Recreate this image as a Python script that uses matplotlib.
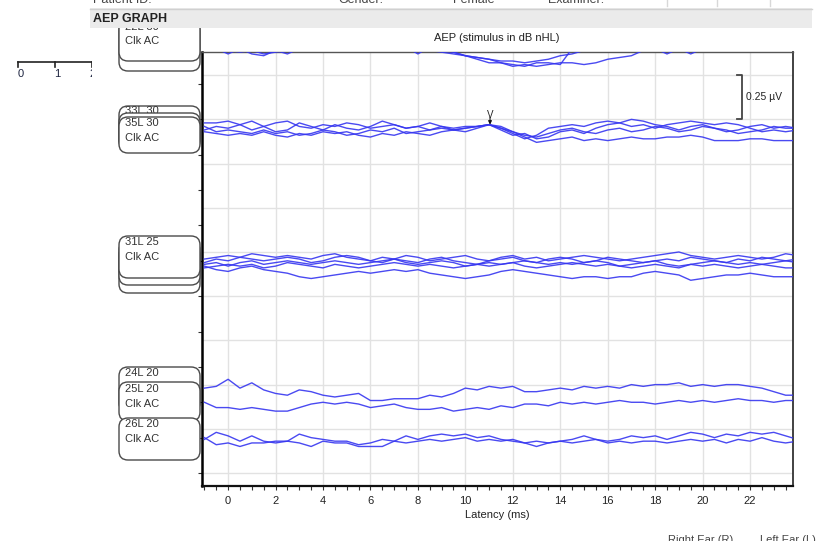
import numpy as np
import matplotlib
matplotlib.use("Agg")
import matplotlib.pyplot as plt
from matplotlib.patches import FancyBboxPatch, Rectangle

plt.rcParams['font.family'] = ['Liberation Sans', 'DejaVu Sans']

# ---------------------------------------------------------------- data
latency_ms = np.arange(-1.0, 24.01, 0.5)          # 51 samples per sweep
xtick_values = [0, 2, 4, 6, 8, 10, 12, 14, 16, 18, 20, 22]

# baselines of each stimulus level (µV on the stacked display axis)
base_top = 2.43
base_30 = 1.94
base_25 = 1.19
base_24L = 0.47
base_25L = 0.38
base_26L = 0.20

# sweeps, µV relative to their baseline
top_a = [-0.02, -0.03, -0.06, -0.03, -0.06, -0.07, -0.04, -0.06, -0.03, -0.02,
         -0.01, -0.03, -0.02, 0.00, -0.02, -0.01, -0.03, -0.02, -0.01, -0.03,
         -0.04, -0.05, -0.07, -0.08, -0.09, -0.11, -0.12, -0.13, -0.11, -0.11,
         -0.12, -0.03, 0.00, -0.02, -0.01, -0.03, -0.02, -0.01, -0.03, -0.02,
         -0.04, -0.02, -0.03, -0.01, -0.02, -0.03, -0.01, -0.02, -0.03, -0.02,
         -0.01]
top_b = [-0.03, -0.02, -0.04, -0.05, -0.04, -0.06, -0.05, -0.04, -0.02, -0.03,
         -0.01, -0.02, -0.03, -0.02, -0.04, -0.02, -0.03, -0.01, -0.02, -0.04,
         -0.05, -0.06, -0.07, -0.09, -0.11, -0.11, -0.13, -0.12, -0.13, -0.12,
         -0.11, -0.11, -0.12, -0.11, -0.09, -0.08, -0.07, -0.04, -0.03, -0.06,
         -0.03, -0.06, -0.03, -0.02, -0.04, -0.03, -0.02, -0.03, -0.01, -0.02,
         -0.03]
top_c = [-0.01, -0.02, -0.03, -0.02, -0.01, -0.03, -0.02, -0.01, -0.02, -0.03,
         -0.02, -0.01, -0.02, -0.03, -0.01, -0.02, -0.03, -0.02, -0.06, -0.02,
         -0.03, -0.05, -0.07, -0.08, -0.09, -0.10, -0.10, -0.11, -0.10, -0.09,
         -0.07, -0.06, -0.04, -0.02, -0.01, -0.02, -0.03, -0.02, -0.01, -0.02,
         -0.03, -0.02, -0.01, -0.02, -0.03, -0.02, -0.01, -0.02, -0.03, -0.02,
         -0.01]

db30_a = [0.04, 0.04, 0.05, 0.03, 0.05, 0.02, 0.04, 0.05, 0.02, 0.01,
          0.03, 0.02, 0.04, 0.03, 0.01, 0.02, 0.03, 0.01, 0.02, 0.00,
          0.02, 0.01, 0.02, 0.02, 0.03, 0.01, -0.02, -0.05, -0.03, 0.01,
          0.02, 0.03, 0.02, 0.04, 0.05, 0.04, 0.02, 0.03, 0.01, 0.03,
          0.04, 0.05, 0.04, 0.03, 0.04, 0.03, 0.01, -0.01, 0.00, -0.01,
          0.00]
db30_b = [0.00, 0.02, 0.01, 0.03, 0.00, 0.02, -0.01, 0.00, 0.04, 0.02,
          0.00, 0.03, 0.01, 0.00, 0.02, 0.05, 0.03, 0.01, 0.02, 0.04,
          0.02, 0.00, 0.01, 0.02, 0.03, 0.00, -0.03, -0.02, -0.05, -0.04,
          -0.01, 0.00, -0.02, 0.01, 0.03, 0.04, 0.06, 0.05, 0.03, 0.02,
          0.00, 0.02, 0.03, 0.01, -0.01, 0.00, 0.02, 0.03, 0.01, 0.02,
          0.01]
db30_c = [0.02, -0.01, 0.00, -0.01, -0.02, 0.00, -0.02, -0.01, -0.03, -0.02,
          0.00, -0.01, -0.03, -0.02, 0.00, -0.01, 0.01, -0.02, -0.01, 0.00,
          0.01, 0.00, -0.01, 0.01, 0.03, 0.02, -0.01, -0.03, -0.04, -0.02,
          0.00, 0.01, -0.01, -0.02, 0.00, 0.01, -0.01, 0.00, 0.02, 0.01,
          -0.01, 0.00, 0.02, 0.01, 0.00, -0.02, -0.01, 0.00, 0.02, 0.01,
          0.01]
db30_d = [-0.01, -0.02, -0.03, -0.02, -0.03, -0.01, -0.03, -0.04, -0.02, -0.03,
          -0.01, -0.02, -0.01, -0.03, -0.04, -0.02, -0.03, -0.01, -0.02, -0.03,
          -0.01, 0.00, 0.01, 0.02, 0.03, 0.01, -0.01, -0.04, -0.07, -0.06,
          -0.05, -0.04, -0.06, -0.05, -0.06, -0.05, -0.04, -0.05, -0.05, -0.04,
          -0.04, -0.03, -0.04, -0.06, -0.06, -0.06, -0.05, -0.05, -0.06, -0.06,
          -0.06]

db25_a = [0.02, 0.03, 0.04, 0.03, 0.05, 0.04, 0.03, 0.04, 0.03, 0.02,
          0.04, 0.05, 0.03, 0.02, 0.01, 0.03, 0.02, 0.04, 0.03, 0.01,
          0.02, 0.03, 0.04, 0.02, 0.01, 0.03, 0.04, 0.02, 0.03, 0.01,
          0.02, 0.03, 0.04, 0.03, 0.02, 0.01, 0.02, 0.03, 0.04, 0.05,
          0.06, 0.04, 0.03, 0.02, 0.03, 0.04, 0.03, 0.02, 0.03, 0.05,
          0.04]
db25_b = [0.00, 0.02, 0.01, 0.03, 0.02, 0.01, 0.02, 0.03, 0.02, 0.00,
          0.01, 0.03, 0.04, 0.03, 0.01, 0.00, 0.02, 0.01, 0.00, 0.02,
          0.03, 0.01, 0.00, -0.01, 0.01, 0.02, 0.03, 0.01, 0.00, 0.02,
          0.03, 0.02, 0.00, 0.01, 0.03, 0.02, 0.01, 0.00, 0.01, 0.02,
          0.01, 0.03, 0.02, 0.01, 0.00, 0.02, 0.01, 0.03, 0.02, 0.01,
          0.02]
db25_c = [-0.01, 0.00, -0.02, 0.00, 0.01, -0.01, 0.00, 0.01, 0.00, -0.01,
          0.00, 0.01, 0.00, -0.01, 0.00, 0.01, 0.02, 0.00, -0.01, 0.00,
          0.01, 0.00, -0.02, -0.01, 0.00, -0.01, 0.00, 0.01, 0.00, -0.01,
          0.00, -0.01, 0.00, 0.01, 0.00, -0.02, -0.01, 0.00, 0.01, -0.01,
          -0.02, -0.01, 0.00, 0.01, 0.00, -0.01, 0.00, -0.01, 0.00, 0.01,
          0.00]
db25_d = [-0.03, -0.02, -0.01, -0.02, -0.01, -0.03, -0.02, 0.00, -0.01, -0.02,
          -0.03, -0.01, -0.02, -0.03, -0.02, -0.01, 0.00, -0.01, -0.02, -0.01,
          -0.02, -0.03, -0.02, -0.01, -0.02, -0.01, 0.00, -0.02, -0.03, -0.02,
          -0.01, 0.00, -0.01, -0.02, -0.01, -0.02, -0.03, -0.02, -0.01, -0.02,
          -0.03, -0.01, -0.02, -0.01, -0.02, -0.03, -0.02, -0.01, -0.02, -0.03,
          -0.03]
db25_e = [-0.02, -0.04, -0.05, -0.03, -0.02, -0.04, -0.05, -0.06, -0.08, -0.09,
          -0.08, -0.07, -0.06, -0.05, -0.06, -0.05, -0.04, -0.05, -0.04, -0.06,
          -0.07, -0.08, -0.09, -0.08, -0.07, -0.05, -0.04, -0.05, -0.06, -0.07,
          -0.08, -0.09, -0.08, -0.08, -0.09, -0.08, -0.08, -0.06, -0.05, -0.06,
          -0.07, -0.10, -0.09, -0.08, -0.07, -0.07, -0.06, -0.07, -0.08, -0.08,
          -0.08]

run_24L = [0.01, 0.02, 0.06, 0.01, 0.04, 0.00, -0.02, -0.03, 0.00, -0.01,
           -0.03, -0.04, -0.03, -0.02, -0.06, -0.06, -0.05, -0.05, -0.05, -0.03,
           -0.04, -0.02, 0.01, 0.00, 0.02, 0.01, 0.02, -0.01, -0.01, 0.00,
           0.01, 0.00, 0.02, 0.01, 0.02, 0.01, 0.03, 0.02, 0.03, 0.03,
           0.04, 0.02, 0.03, 0.02, 0.03, 0.03, 0.02, 0.01, -0.01, -0.03,
           -0.03]
run_25L = [0.02, -0.01, -0.01, -0.02, -0.01, -0.02, -0.03, -0.03, -0.01, 0.01,
           0.02, 0.01, 0.02, 0.01, -0.01, 0.00, 0.01, -0.01, -0.02, -0.02,
           -0.01, -0.03, -0.02, -0.01, -0.02, 0.00, -0.01, 0.01, 0.01, 0.00,
           0.02, 0.01, 0.02, 0.01, 0.02, 0.03, 0.02, 0.02, 0.01, 0.02,
           0.03, 0.02, 0.03, 0.02, 0.03, 0.04, 0.03, 0.03, 0.02, 0.03,
           0.03]
run_26L_a = [-0.01, 0.03, 0.01, -0.02, 0.01, -0.02, -0.03, -0.02, 0.02, 0.00,
             -0.01, -0.02, -0.02, -0.04, -0.03, -0.01, -0.02, 0.01, -0.01, 0.01,
             0.02, 0.01, 0.02, 0.00, 0.01, -0.01, -0.02, -0.03, -0.02, -0.03,
             -0.02, -0.01, 0.01, -0.01, -0.02, -0.01, 0.01, 0.00, 0.01, -0.01,
             0.01, 0.03, 0.02, 0.00, 0.02, 0.01, 0.03, 0.02, 0.03, 0.01,
             -0.01]
run_26L_b = [0.00, -0.04, -0.03, -0.05, -0.03, -0.03, -0.02, -0.02, -0.03, -0.05,
             -0.02, -0.03, -0.03, -0.05, -0.05, -0.05, -0.02, -0.03, -0.02, -0.01,
             -0.02, -0.01, 0.00, -0.02, -0.01, -0.02, -0.01, -0.03, -0.05, -0.03,
             -0.02, -0.03, -0.02, -0.01, -0.03, -0.02, -0.03, -0.02, -0.02, -0.03,
             -0.02, -0.01, -0.02, -0.01, -0.03, -0.01, -0.02, 0.00, -0.02, -0.03,
             -0.02]

wave_v_ms = 11.04
wave_v_uv = base_30 + 0.03
scale_uv = 0.25

# ---------------------------------------------------------------- figure
W, H = 820, 541
fig = plt.figure(figsize=(W / 100, H / 100), dpi=100)
fig.patch.set_facecolor('white')

ax = fig.add_axes([202 / W, 1 - 486 / H, 591 / W, 434 / H])
ax.set_xlim(-1.1, 23.81)
ax.set_ylim(-0.0735, 2.381)

for v in np.arange(0, 2.26, 0.25):
    ax.axhline(v, color='#e2e2e2', lw=1.0, zorder=0)
ax.set_xticks(xtick_values)
ax.set_xticks(np.arange(-1.0, 23.6, 0.5), minor=True)
ax.xaxis.grid(True, which='major', color='#e2e2e2', lw=1.0, zorder=0)
ax.set_axisbelow(True)
ax.set_yticks(np.arange(0, 2.3, 0.2))
ax.set_yticklabels([])
ax.tick_params(axis='x', which='both', direction='out', length=3,
               width=0.8, color='#333333', labelsize=8, pad=4,
               labelcolor='#222222')
ax.tick_params(axis='y', direction='out', length=3, width=0.8,
               color='#333333')
ax.set_xlabel('Latency (ms)', fontsize=8, color='#222222', labelpad=3)

for side, lw, c in [('left', 1.8, 'black'), ('bottom', 1.6, '#111111'),
                    ('right', 1.3, '#333333'), ('top', 1.0, '#555555')]:
    ax.spines[side].set_linewidth(lw)
    ax.spines[side].set_color(c)

trace_color = '#3636f0'
groups = [
    (base_top, [top_a, top_b, top_c]),
    (base_30, [db30_a, db30_b, db30_c, db30_d]),
    (base_25, [db25_a, db25_b, db25_c, db25_d, db25_e]),
    (base_24L, [run_24L]),
    (base_25L, [run_25L]),
    (base_26L, [run_26L_a, run_26L_b]),
]
for base, sweeps in groups:
    for sweep in sweeps:
        ax.plot(latency_ms, base + np.asarray(sweep), color=trace_color,
                lw=1.0, alpha=0.9, solid_joinstyle='round', zorder=3)

# wave V marker
ax.annotate('', xy=(wave_v_ms, wave_v_uv), xytext=(wave_v_ms, wave_v_uv + 0.04),
            arrowprops=dict(arrowstyle='-|>', color='#111111', lw=0.8,
                            mutation_scale=5, shrinkA=0, shrinkB=0), zorder=5)
ax.text(wave_v_ms, wave_v_uv + 0.055, 'V', ha='center', va='center',
        fontsize=7, color='#222222', zorder=5)

# amplitude scale bracket
bx, by0 = 21.66, 2.0
ax.plot([bx - 0.2, bx, bx, bx - 0.2], [by0, by0, by0 + scale_uv, by0 + scale_uv],
        color='#444444', lw=1.3, zorder=5)
ax.text(bx + 0.17, by0 + scale_uv / 2, '0.25 µV', fontsize=7.5,
        color='#222222', va='center', ha='left')

# ---------------------------------------------------------------- overlay in pixel units
ov = fig.add_axes([0, 0, 1, 1], zorder=5)
ov.set_xlim(0, W)
ov.set_ylim(H, 0)
ov.axis('off')
ov.patch.set_alpha(0)


def label_box(top, bottom, z):
    ov.add_patch(FancyBboxPatch((119, top), 81, bottom - top,
                                boxstyle='round,pad=0,rounding_size=9',
                                fc='white', ec='#4a4a4a', lw=1.0, zorder=z))


def label_text(y, s, z):
    ov.text(125, y, s, fontsize=8, color='#333333', va='center', ha='left',
            zorder=z)


# top group (mostly under the header)
label_box(22, 71, 2)
label_box(18, 61, 3)
label_text(27, '22L 30', 3.5)
label_text(41, 'Clk AC', 3.5)

# 30 dB group
label_box(106, 148, 2)
label_text(111, '33L 30', 2.5)
label_box(113, 150, 3)
label_box(117, 153, 4)
label_text(123, '35L 30', 4.5)
label_text(138, 'Clk AC', 4.5)

# 25 dB group
label_box(246, 293, 2)
label_box(241, 285, 3)
label_box(236, 278, 4)
label_text(242, '31L 25', 4.5)
label_text(257, 'Clk AC', 4.5)

# 20 dB group
label_box(367, 412, 2)
label_text(373, '24L 20', 2.5)
label_box(382, 421, 3)
label_text(389, '25L 20', 3.5)
label_text(404, 'Clk AC', 3.5)
label_box(418, 460, 4)
label_text(424, '26L 20', 4.5)
label_text(439, 'Clk AC', 4.5)

# header bar
ov.add_patch(Rectangle((90, 8), 722, 20, fc='#ebebeb', ec='none', zorder=10))
ov.plot([90, 812], [8.5, 8.5], color='#d0d0d0', lw=1.0, zorder=10)
ov.text(93, 18.5, 'AEP GRAPH', fontsize=9, fontweight='bold',
        color='#222222', va='center', ha='left', zorder=11)
for x, s in [(93, 'Patient ID:'), (338, 'Gender:'), (453, 'Female'),
             (548, 'Examiner:')]:
    ov.text(x, 0, s, fontsize=9, color='#444444', va='center', ha='left',
            zorder=11)
for x in (667, 717, 770):
    ov.plot([x, x], [0, 6], color='#d8d8d8', lw=1.0, zorder=11)

# chart title
ov.text(497, 38, 'AEP (stimulus in dB nHL)', fontsize=8, color='#222222',
        ha='center', va='center', zorder=11)

# small time ruler at the left
ov.plot([18, 95], [62, 62], color='#222222', lw=1.2, zorder=6)
for x in (18, 55, 92):
    ov.plot([x, x], [62, 67], color='#222222', lw=1.2, zorder=6)
for x, s in [(21, '0'), (57, '1'), (93, '2')]:
    ov.text(x, 74, s, fontsize=8, color='#1d2440', ha='center', va='center',
            zorder=6)
ov.add_patch(Rectangle((92, 55), 20, 30, fc='white', ec='none', zorder=7))

# ear legend, cut by the lower edge
ov.text(668, 540, 'Right Ear (R)', fontsize=8, color='#444444', va='center',
        ha='left', zorder=11)
ov.text(760, 540, 'Left Ear (L)', fontsize=8, color='#444444', va='center',
        ha='left', zorder=11)

fig.savefig('out.png', dpi=100)
